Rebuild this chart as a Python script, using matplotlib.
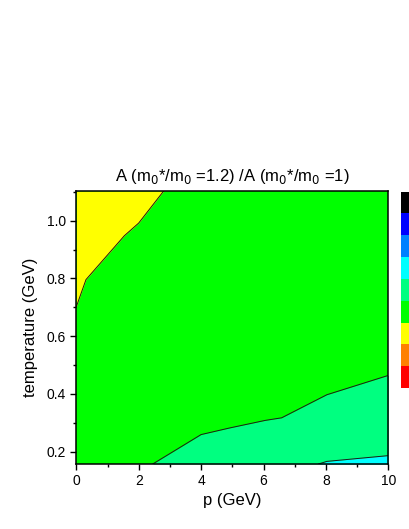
import matplotlib
matplotlib.use("Agg")
import matplotlib.pyplot as plt
from matplotlib.colors import ListedColormap, BoundaryNorm
from matplotlib.cm import ScalarMappable
from matplotlib.ticker import MultipleLocator

plt.rcParams['font.family'] = ['Liberation Sans', 'DejaVu Sans']

# axis ranges
pMin, pMax = 0, 10
tMin, tMax = 0.157, 1.103

# contour boundaries
yellowGreenP = [0, 0.31, 1.54, 2.0, 2.8]
yellowGreenT = [0.702, 0.796, 0.948, 0.992, tMax]

greenSpringP = [2.45, 4.0, 4.92, 6.05, 6.58, 8.03, 10.0]
greenSpringT = [tMin, 0.259, 0.282, 0.308, 0.317, 0.397, 0.464]

springCyanP = [7.76, 8.03, 10.0]
springCyanT = [tMin, 0.166, 0.186]

# colour scale, bottom to top
scaleColors = ['#ff0000', '#ff8000', '#ffff00', '#00ff00', '#00ff80',
               '#00ffff', '#0080ff', '#0000ff', '#000000']

fig = plt.figure(figsize=(4.09, 5.29), dpi=100)
ax = fig.add_axes([0.1866, 0.1229, 0.7628, 0.516])

ax.set_facecolor('#00ff00')
ax.fill_between(yellowGreenP, yellowGreenT, tMax, color='#ffff00', lw=0)
ax.fill_between(greenSpringP, tMin, greenSpringT, color='#00ff80', lw=0)
ax.fill_between(springCyanP, tMin, springCyanT, color='#00ffff', lw=0)

for px, ty in [(yellowGreenP, yellowGreenT), (greenSpringP, greenSpringT),
               (springCyanP, springCyanT)]:
    ax.plot(px, ty, color='#1a1a1a', lw=0.7)

ax.set_xlim(pMin, pMax)
ax.set_ylim(tMin, tMax)
ax.xaxis.set_major_locator(MultipleLocator(2))
ax.xaxis.set_minor_locator(MultipleLocator(1))
ax.yaxis.set_major_locator(MultipleLocator(0.2))
ax.yaxis.set_minor_locator(MultipleLocator(0.1))
ax.tick_params(which='major', direction='out', length=4, width=1, labelsize=10)
ax.tick_params(which='minor', direction='out', length=2.5, width=1)
for s in ax.spines.values():
    s.set_linewidth(1.1)

ax.set_xlabel('p (GeV)', fontsize=12, labelpad=3)
ax.set_ylabel('temperature (GeV)', fontsize=12, labelpad=6)
ax.set_title('A (m$_0$*/m$_0$ =1.2) /A (m$_0$*/m$_0$ =1)', fontsize=12, pad=7)

# colour bar, partly outside the figure as in the original
cax = fig.add_axes([0.9804, 1 - 388 / 529, 0.05, (388 - 191.5) / 529])
cmap = ListedColormap(scaleColors)
norm = BoundaryNorm(range(len(scaleColors) + 1), cmap.N)
cb = fig.colorbar(ScalarMappable(norm=norm, cmap=cmap), cax=cax)
cb.set_ticks([])
cb.outline.set_visible(False)

fig.savefig('out.png', dpi=100)
